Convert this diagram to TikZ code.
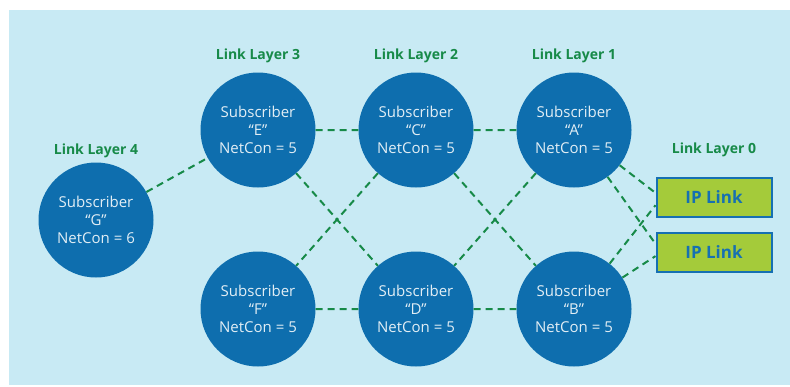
\documentclass[tikz,border=0pt]{standalone}
\usepackage{fontspec}
\setmainfont{Open Sans}
\usetikzlibrary{arrows}
\definecolor{bgblue}{HTML}{C8EAF4}
\definecolor{subblue}{HTML}{0E6EAE}
\definecolor{linkgreen}{HTML}{178A48}
\definecolor{iplime}{HTML}{A4CB3A}
\definecolor{ipblue}{HTML}{1670B2}

\begin{document}
\begin{tikzpicture} [
  x=1pt,
  y=-1pt,
  node distance=158pt,
  sub node/.style={circle,fill=subblue,text=white!88!subblue,minimum size=115pt,
    inner sep=0pt,align=center,font=\fontsize{15}{18}\selectfont},
  layer label/.style={text=linkgreen,font=\bfseries\fontsize{14}{17}\selectfont},
  ip node/.style={rectangle,draw=ipblue,line width=2pt,fill=iplime,text=ipblue,
    minimum width=115pt,minimum height=39pt,font=\bfseries\fontsize{17}{20}\selectfont},
  link/.style={draw=linkgreen,line width=2pt,dash pattern=on 7pt off 5pt},
  ]

  \useasboundingbox (0,0) rectangle (790,386);
  \fill[bgblue] (9,10) rectangle (790,385);

  % subscribers
  \node[sub node] (e) at (258,130) {Subscriber\\“E”\\NetCon = 5};
  \node[sub node, right of=e] (c) {Subscriber\\“C”\\NetCon = 5};
  \node[sub node, right of=c] (a) {Subscriber\\“A”\\NetCon = 5};
  \node[sub node, below of=e, node distance=179pt] (f) {Subscriber\\“F”\\NetCon = 5};
  \node[sub node, right of=f] (d) {Subscriber\\“D”\\NetCon = 5};
  \node[sub node, right of=d] (b) {Subscriber\\“B”\\NetCon = 5};
  \node[sub node] (g) at (96,220) {Subscriber\\“G”\\NetCon = 6};

  % ip links
  \node[ip node] (ip1) at (714,197) {IP Link};
  \node[ip node, below of=ip1, node distance=55pt] (ip2) {IP Link};

  % layer labels
  \node[layer label, above of=g, node distance=69pt] (l4) {Link Layer 4};
  \node[layer label, above of=e, node distance=74pt] (l3) {Link Layer 3};
  \node[layer label, above of=c, node distance=74pt] (l2) {Link Layer 2};
  \node[layer label, above of=a, node distance=74pt] (l1) {Link Layer 1};
  \node[layer label, above of=ip1, node distance=47pt] (l0) {Link Layer 0};

  \draw[link]
    (g) -- (e)
    (e) -- (c) (c) -- (a)
    (f) -- (d) (d) -- (b)
    (e) -- (d) (c) -- (f)
    (c) -- (b) (a) -- (d);

  \draw[link]
    (a) -- (ip1.176) (a) -- (ip2.172)
    (b) -- (ip1.188) (b) -- (ip2.184);
\end{tikzpicture}
\end{document}
